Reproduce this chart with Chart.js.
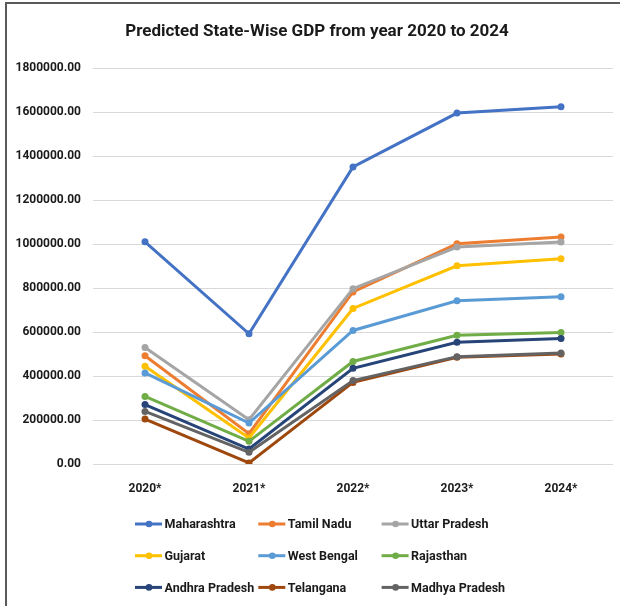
<!DOCTYPE html>
<html>
<head>
<meta charset="utf-8">
<title>Predicted State-Wise GDP</title>
<script src="https://cdn.jsdelivr.net/npm/chart.js@4.4.1/dist/chart.umd.min.js"></script>
<style>
  html, body { margin: 0; padding: 0; background: #fff; overflow: hidden; }
  #gdpChart { display: block; }
</style>
</head>
<body>
<canvas id="gdpChart" width="620" height="606"></canvas>
<script>
// predicted GDP per state, one value per year
const years = ['2020*', '2021*', '2022*', '2023*', '2024*'];
const maharashtra   = [1010000, 592000, 1350000, 1595000, 1624000];
const tamilNadu     = [492000, 138000, 782000, 1001000, 1032000];
const uttarPradesh  = [530000, 201000, 797000, 986000, 1009000];
const gujarat       = [444000, 118000, 707000, 901000, 933000];
const westBengal    = [414000, 186000, 607000, 742000, 760000];
const rajasthan     = [307000, 103000, 466000, 585000, 598000];
const andhraPradesh = [270000, 68000, 435000, 553000, 571000];
const telangana     = [204000, 5000, 371000, 485000, 500000];
const madhyaPradesh = [239000, 53000, 379000, 488000, 505000];

const states = ['Maharashtra', 'Tamil Nadu', 'Uttar Pradesh', 'Gujarat', 'West Bengal',
  'Rajasthan', 'Andhra Pradesh', 'Telangana', 'Madhya Pradesh'];
const values = [maharashtra, tamilNadu, uttarPradesh, gujarat, westBengal,
  rajasthan, andhraPradesh, telangana, madhyaPradesh];
const colors = ['#4472C4', '#ED7D31', '#A5A5A5', '#FFC000', '#5B9BD5',
  '#70AD47', '#264478', '#9E480E', '#636363'];

const TITLE = 'Predicted State-Wise GDP from year 2020 to 2024';
const FONT = "Roboto, 'Noto Sans', sans-serif";
const TEXT = '#1a1a1a';

// dark frame along the top and left edge, plus the title
const frame = {
  id: 'frame',
  beforeDraw(chart) {
    const ctx = chart.ctx;
    ctx.save();
    ctx.strokeStyle = '#5a5a5a';
    ctx.lineWidth = 2;
    ctx.beginPath();
    ctx.moveTo(6, chart.height);
    ctx.lineTo(6, 3);
    ctx.lineTo(chart.width, 3);
    ctx.stroke();
    ctx.fillStyle = TEXT;
    ctx.font = 'bold 17px ' + FONT;
    ctx.textAlign = 'center';
    ctx.textBaseline = 'middle';
    ctx.fillText(TITLE, 317, 32);
    ctx.restore();
  }
};

// legend laid out as a 3-column grid under the axis
const gridLegend = {
  id: 'gridLegend',
  afterDraw(chart) {
    const ctx = chart.ctx;
    ctx.save();
    ctx.font = 'bold 12.5px ' + FONT;
    ctx.textBaseline = 'middle';
    ctx.textAlign = 'left';
    chart.data.datasets.forEach((ds, i) => {
      const x = 135 + (i % 3) * 123.3;
      const y = 524 + Math.floor(i / 3) * 31.7;
      ctx.strokeStyle = ds.borderColor;
      ctx.lineWidth = 3;
      ctx.beginPath();
      ctx.moveTo(x, y);
      ctx.lineTo(x + 27, y);
      ctx.stroke();
      ctx.fillStyle = ds.borderColor;
      ctx.beginPath();
      ctx.arc(x + 14, y, 3.3, 0, Math.PI * 2);
      ctx.fill();
      ctx.fillStyle = TEXT;
      ctx.fillText(ds.label, x + 29.5, y + 1);
    });
    ctx.restore();
  }
};

const datasets = states.map((name, i) => ({
  label: name,
  data: values[i],
  borderColor: colors[i],
  backgroundColor: colors[i],
  borderWidth: 3,
  pointRadius: 3.5,
  pointHoverRadius: 3.5,
  pointBorderWidth: 0,
  tension: 0,
  order: states.length - i   // later series sit on top
}));

new Chart(document.getElementById('gdpChart'), {
  type: 'line',
  data: { labels: years, datasets: datasets },
  plugins: [frame, gridLegend],
  options: {
    responsive: false,
    animation: false,
    layout: { padding: { top: 68, right: 7, bottom: 92, left: 0 } },
    plugins: {
      legend: { display: false },
      tooltip: { enabled: false },
      title: { display: false }
    },
    scales: {
      x: {
        offset: true,
        grid: { display: false, drawTicks: false },
        border: { display: false },
        ticks: { color: TEXT, padding: 18, font: { family: FONT, size: 12, weight: 'bold' } },
        afterFit: s => { s.height = 50; }
      },
      y: {
        min: 0,
        max: 1800000,
        grid: { color: '#d9d9d9', lineWidth: 1, drawTicks: false },
        border: { display: false },
        ticks: {
          stepSize: 200000,
          padding: 12,
          color: TEXT,
          font: { family: FONT, size: 12, weight: 'bold' },
          callback: v => v.toFixed(2)
        },
        afterFit: s => { s.width = 93; }
      }
    }
  }
});
</script>
</body>
</html>
